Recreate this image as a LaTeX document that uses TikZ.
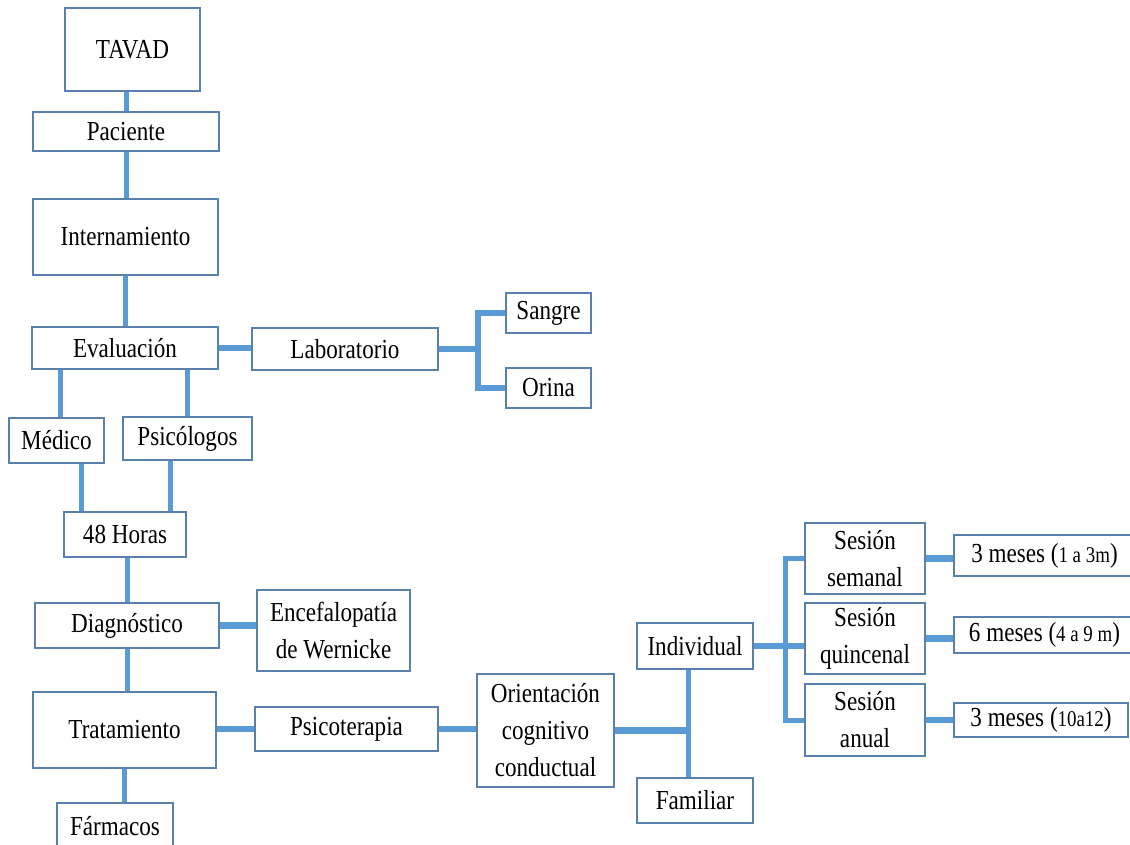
\documentclass[tikz,border=0pt]{standalone}
\usepackage{fontspec}
\setmainfont{Liberation Serif}[FakeStretch=0.84]
\usetikzlibrary{calc}
\definecolor{conncol}{HTML}{5B9BD5}
\definecolor{boxcol}{HTML}{5A80AE}
\tikzset{
  box/.style={draw=boxcol, line width=1.2pt, fill=white, inner sep=0pt, align=center,
    font=\fontsize{27.5}{37}\selectfont},
  conn/.style={draw=conncol, line width=5pt},
  connT/.style={draw=conncol, line width=6.5pt},
}
\newcommand{\sm}[1]{{\fontsize{22.5}{22.5}\selectfont #1}}
\begin{document}
\begin{tikzpicture}[x=1pt,y=-1pt]
\fill[white] (0,0) rectangle (1130,844);
\useasboundingbox (0,0) rectangle (1130,844);
% nodes
\node[box, minimum width=135, minimum height=83] (tavad) at (132.5,49.5) {TAVAD};
\node[box, minimum width=186, minimum height=39] (paciente) at (126,131.5) {Paciente};
\node[box, minimum width=185, minimum height=76] (intern) at (125.5,237) {Internamiento};
\node[box, minimum width=186, minimum height=42] (eval) at (125,348) {Evaluación};
\node[box, minimum width=186, minimum height=42] (lab) at (345,349) {Laboratorio};
\node[box, minimum width=85, minimum height=40] (sangre) at (548.5,313) {Sangre};
\node[box, minimum width=85, minimum height=40] (orina) at (548.5,388) {Orina};
\node[box, minimum width=95, minimum height=45] (medico) at (56.5,440.5) {Médico};
\node[box, minimum width=129, minimum height=43] (psico) at (187.5,438.5) {Psicólogos};
\node[box, minimum width=122, minimum height=45] (horas) at (125,534.5) {48 Horas};
\node[box, minimum width=184, minimum height=45] (diag) at (127,625.5) {Diagnóstico};
\node[box, minimum width=153, minimum height=81] (encef) at (333.5,630.5) {Encefalopatía\\de Wernicke};
\node[box, minimum width=183, minimum height=76] (trat) at (124.5,730) {Tratamiento};
\node[box, minimum width=183, minimum height=44] (psicot) at (346.5,729) {Psicoterapia};
\node[box, minimum width=116, minimum height=47] (farm) at (115,826.5) {Fármacos};
\node[box, minimum width=137, minimum height=113] (orient) at (545.5,730.5) {Orientación\\cognitivo\\conductual};
\node[box, minimum width=116, minimum height=46] (indiv) at (695,646) {Individual};
\node[box, minimum width=116, minimum height=45] (famil) at (695,800.5) {Familiar};
\node[box, minimum width=120, minimum height=71] (ses1) at (865,558.5) {Sesión\\semanal};
\node[box, minimum width=120, minimum height=71] (ses2) at (865,638.5) {Sesión\\quincenal};
\node[box, minimum width=120, minimum height=72] (ses3) at (865,720) {Sesión\\anual};
\node[box, minimum width=181, minimum height=41] (m1) at (1044.5,555.5) {3 meses (\sm{1 a 3m})};
\node[box, minimum width=181, minimum height=36] (m2) at (1044.5,635) {6 meses (\sm{4 a 9 m})};
\node[box, minimum width=174, minimum height=34] (m3) at (1041,720) {3 meses (\sm{10a12})};
% helper coordinates
\coordinate (lb) at (478,349);
\coordinate (ob) at (688,735);
\coordinate (ib) at (785,646);
\coordinate (mx) at ([xshift=3.5pt]medico.north);
\coordinate (mh) at ([xshift=-44pt]horas.north);
\coordinate (ph) at ([xshift=-17.5pt]psico.south);
% connectors
\draw[conn] (paciente.north |- tavad.south) -- (paciente.north);
\draw[conn] (paciente.south) -- (paciente.south |- intern.north);
\draw[conn] (intern.south) -- (intern.south |- eval.north);
\draw[connT] (eval.east) -- (eval.east -| lab.west);
\draw[connT] (lab.east) -- (lb);
\draw[connT] (sangre.west) -| (lb) |- (orina.west);
\draw[conn] (mx |- eval.south) -- (mx);
\draw[conn] (psico.north |- eval.south) -- (psico.north);
\draw[conn] (mh |- medico.south) -- (mh);
\draw[conn] (ph) -- (ph |- horas.north);
\draw[conn] (diag.north |- horas.south) -- (diag.north);
\draw[line width=7.5pt, draw=conncol] (diag.east) -- (diag.east -| encef.west);
\draw[conn] (diag.south) -- (diag.south |- trat.north);
\draw[connT] (psicot.west -| trat.east) -- (psicot.west);
\draw[conn] (trat.south) -- (trat.south |- farm.north);
\draw[connT] (psicot.east) -- (psicot.east -| orient.west);
\draw[connT] (orient.east) -- (orient.east -| ob);
\draw[conn] (ob |- indiv.south) -- (ob |- famil.north);
\draw[connT] (indiv.east) -- (ses2.west |- indiv.east);
\draw[conn] (ses1.west) -| (ib) |- (ses3.west);
\draw[connT] (ses1.east) -- (ses1.east -| m1.west);
\draw[connT] (ses2.east) -- (ses2.east -| m2.west);
\draw[connT] (ses3.east) -- (ses3.east -| m3.west);
\end{tikzpicture}
\end{document}
